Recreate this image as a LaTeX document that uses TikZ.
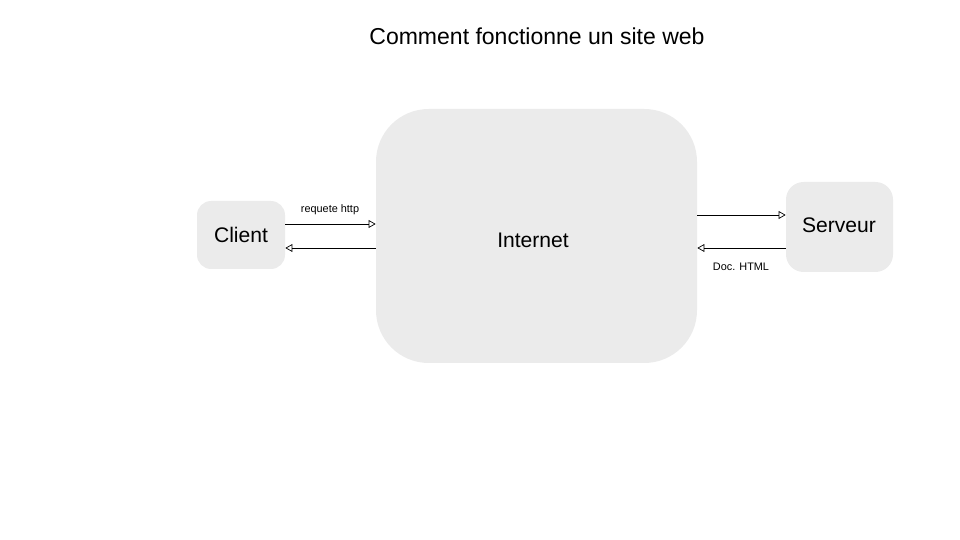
\documentclass[tikz,border=0pt]{standalone}
\usepackage{fontspec}
\setmainfont{Liberation Sans}
\usetikzlibrary{arrows.meta}
\definecolor{boxgray}{HTML}{EBEBEB}
\begin{document}
\begin{tikzpicture}
[
x=0.02cm, y=-0.02cm,
webbox/.style={fill=boxgray, draw=none, inner sep=0},
flow/.style={-{Triangle[open,length=4pt,width=4.5pt]}, thin},
tinylabel/.style={font=\fontsize{6.2}{7}\selectfont}
]
\useasboundingbox (0,0) rectangle (960,540);
%Title
\node[font=\fontsize{13.1}{15}\selectfont] (title) at(537,36) {Comment fonctionne un site web};
%Boxes
\node[webbox, rounded corners=30pt, minimum width=321*0.02cm, minimum height=254*0.02cm] at(536.5,236) (internet) {};
\node[font=\fontsize{12}{14}\selectfont] (ilabel) at(533,240) {Internet};
\node[webbox, rounded corners=8pt, minimum width=88*0.02cm, minimum height=68*0.02cm, font=\fontsize{12}{14}\selectfont] at(241,235) (client) {Client};
\node[webbox, rounded corners=10pt, minimum width=107*0.02cm, minimum height=90*0.02cm] at(839.5,227) (serveur) {};
\node[font=\fontsize{12}{14}\selectfont] (slabel) at(839,225) {Serveur};
%Arrows
\draw[flow] (client.east |- 0,224) -- (internet.west |- 0,224);
\draw[flow] (internet.west |- 0,248) -- (client.east |- 0,248);
\draw[flow] (internet.east |- 0,215) -- (serveur.west |- 0,215);
\draw[flow] (serveur.west |- 0,248) -- (internet.east |- 0,248);
%Labels
\node[tinylabel] (req) at(330,210) {requete http};
\node[tinylabel] (doc) at(741,267) {Doc. HTML};
\end{tikzpicture}
\end{document}
